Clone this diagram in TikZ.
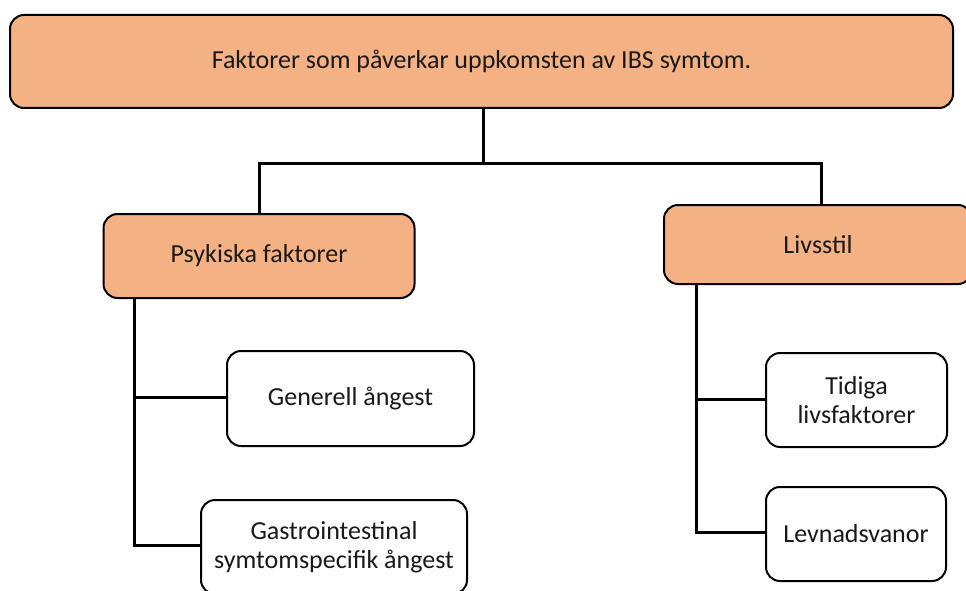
\documentclass[tikz,border=0pt]{standalone}
\usepackage{fontspec}
\setmainfont{Carlito}
\begin{document}
\begin{tikzpicture}[x=1pt,y=-1pt,
  box/.style={draw=black,line width=2pt,rounded corners=14pt,align=center,
    inner sep=0pt,text=black!90,font=\fontsize{26}{29}\selectfont},
  orangebox/.style={box,fill=boxorange},
  whitebox/.style={box,fill=white},
  conn/.style={draw=black,line width=3pt}]
\definecolor{boxorange}{HTML}{F4B183}
\useasboundingbox (0,0) rectangle (966,591);
\clip (0,0) rectangle (966,591);
\node[orangebox,minimum width=943pt,minimum height=93pt] (top) at (481.5,61.5) {Faktorer som påverkar uppkomsten av IBS symtom.};
\node[orangebox,minimum width=311pt,minimum height=84pt] (psy) at (259,256) {Psykiska faktorer};
\node[orangebox,minimum width=308pt,minimum height=79pt] (liv) at (818,244.5) {Livsstil};
\node[whitebox,minimum width=247pt,minimum height=95pt] (gen) at (350.5,398.5) {Generell ångest};
\node[whitebox,minimum width=266pt,minimum height=94pt] (gas) at (334,547) {Gastrointestinal\\symtomspecifik ångest};
\node[whitebox,minimum width=181pt,minimum height=94pt] (tid) at (856.5,400) {Tidiga\\livsfaktorer};
\node[whitebox,minimum width=180pt,minimum height=94pt] (lev) at (856,534) {Levnadsvanor};
\coordinate (j) at (483,163);
\coordinate (ltrunk) at (134,298);
\coordinate (rtrunk) at (696,284);
\draw[conn] ([xshift=1.5pt]top.south) -- (j);
\draw[conn] (psy.north) |- (j) -| ([xshift=3pt]liv.north);
\draw[conn] (ltrunk) |- ([yshift=2pt]gas.west);
\draw[conn] ([yshift=1.5pt]gen.west) -- ([yshift=1.5pt]gen.west -| ltrunk);
\draw[conn] (rtrunk) |- ([yshift=2pt]lev.west);
\draw[conn] ([yshift=1pt]tid.west) -- ([yshift=1pt]tid.west -| rtrunk);
\end{tikzpicture}
\end{document}
